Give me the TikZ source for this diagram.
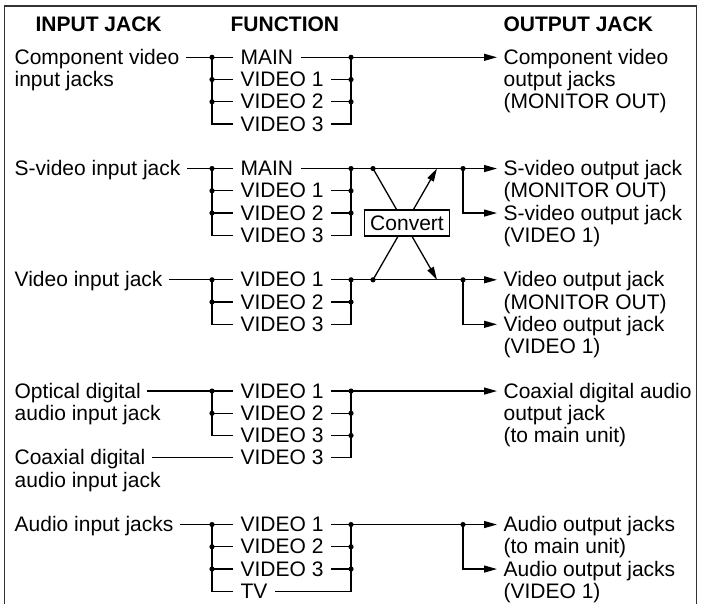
\documentclass[tikz,border=0pt]{standalone}
\usepackage{fontspec}
\setmainfont{Liberation Sans}
\usetikzlibrary{arrows.meta}
\newcommand\yb[1]{{64.3+22.25*(#1)}}
\newcommand\yl[1]{{57.3+22.25*(#1)}}
\begin{document}
\begin{tikzpicture}[x=1pt,y=-1pt, line width=1.3pt,
 every node/.style={font=\fontsize{21}{22}\selectfont},
 lbl/.style={anchor=base west, inner xsep=6pt, inner ysep=0pt, text height=14pt, text depth=0pt},
 fn/.style={anchor=base west, inner xsep=7pt, inner ysep=0pt, text height=14pt, text depth=0pt},
 head/.style={anchor=base west, inner sep=0pt, font=\fontsize{21}{22}\selectfont\bfseries},
 arr/.style={-{Triangle[length=13pt,width=7pt]}},
 frame/.style={line width=1.8pt, draw=black!80}]
\useasboundingbox (0,0) rectangle (701,604);
\draw[frame] (4.5,620) -- (4.5,6.3) -- (696.5,6.3) -- (696.5,620);

% headers
\node[head] (h1) at (35,32) {INPUT JACK};
\node[head] (h2) at (230,32) {FUNCTION};
\node[head] (h3) at (503,32) {OUTPUT JACK};

% ---------------- block 1: component video
\node[lbl] (i1) at (8,\yb{0}) {Component video};
\node[lbl] (i1b) at (8,\yb{1}) {input jacks};
\node[fn] (f1a) at (233,\yb{0}) {MAIN};
\node[fn] (f1b) at (233,\yb{1}) {VIDEO 1};
\node[fn] (f1c) at (233,\yb{2}) {VIDEO 2};
\node[fn] (f1d) at (233,\yb{3}) {VIDEO 3};
\node[lbl] (o1a) at (497,\yb{0}) {Component video};
\node[lbl] (o1b) at (497,\yb{1}) {output jacks};
\node[lbl] (o1c) at (497,\yb{2}) {(MONITOR OUT)};
\coordinate (L1) at (212,\yl{0});
\coordinate (R1) at (351,\yl{0});
\draw (i1.east) -- (f1a.west);
\draw (L1) |- (f1d.west);
\draw (f1b.west -| L1) -- (f1b.west);
\draw (f1c.west -| L1) -- (f1c.west);
\draw (f1a.east) -- (R1);
\draw (R1) |- (f1d.east);
\draw (f1b.east) -- (f1b.east -| R1);
\draw (f1c.east) -- (f1c.east -| R1);
\draw[arr] (R1) -- (o1a.west);
\foreach \p in {f1a,f1b,f1c} {\fill (\p.west -| L1) circle (2.6pt); \fill (\p.east -| R1) circle (2.6pt);}

% ---------------- block 2: S-video
\node[lbl] (i2) at (8,\yb{5}) {S-video input jack};
\node[fn] (f2a) at (233,\yb{5}) {MAIN};
\node[fn] (f2b) at (233,\yb{6}) {VIDEO 1};
\node[fn] (f2c) at (233,\yb{7}) {VIDEO 2};
\node[fn] (f2d) at (233,\yb{8}) {VIDEO 3};
\node[lbl] (o2a) at (497,\yb{5}) {S-video output jack};
\node[lbl] (o2b) at (497,\yb{6}) {(MONITOR OUT)};
\node[lbl] (o2c) at (497,\yb{7}) {S-video output jack};
\node[lbl] (o2d) at (497,\yb{8}) {(VIDEO 1)};
\coordinate (L2) at (212,\yl{5});
\coordinate (R2) at (351,\yl{5});
\coordinate (S2) at (373,\yl{5});
\coordinate (T2) at (437,\yl{5});
\coordinate (B2) at (463,\yl{5});
\draw (i2.east) -- (f2a.west);
\draw (L2) |- (f2d.west);
\draw (f2b.west -| L2) -- (f2b.west);
\draw (f2c.west -| L2) -- (f2c.west);
\draw (f2a.east) -- (R2);
\draw (R2) |- (f2d.east);
\draw (f2b.east) -- (f2b.east -| R2);
\draw (f2c.east) -- (f2c.east -| R2);
\draw[arr] (R2) -- (o2a.west);
\draw[arr] (B2) |- (o2c.west);
\foreach \p in {f2a,f2b,f2c} {\fill (\p.west -| L2) circle (2.6pt); \fill (\p.east -| R2) circle (2.6pt);}

% ---------------- block 3: video
\node[lbl] (i3) at (8,\yb{10}) {Video input jack};
\node[fn] (f3a) at (233,\yb{10}) {VIDEO 1};
\node[fn] (f3b) at (233,\yb{11}) {VIDEO 2};
\node[fn] (f3c) at (233,\yb{12}) {VIDEO 3};
\node[lbl] (o3a) at (497,\yb{10}) {Video output jack};
\node[lbl] (o3b) at (497,\yb{11}) {(MONITOR OUT)};
\node[lbl] (o3c) at (497,\yb{12}) {Video output jack};
\node[lbl] (o3d) at (497,\yb{13}) {(VIDEO 1)};
\coordinate (L3) at (212,\yl{10});
\coordinate (R3) at (351,\yl{10});
\coordinate (S3) at (373,\yl{10});
\coordinate (T3) at (437,\yl{10});
\coordinate (B3) at (463,\yl{10});
\draw (i3.east) -- (f3a.west);
\draw (L3) |- (f3c.west);
\draw (f3b.west -| L3) -- (f3b.west);
\draw (f3a.east) -- (R3);
\draw (R3) |- (f3c.east);
\draw (f3b.east) -- (f3b.east -| R3);
\draw[arr] (R3) -- (o3a.west);
\draw[arr] (B3) |- (o3c.west);
\foreach \p in {f3a,f3b} {\fill (\p.west -| L3) circle (2.6pt); \fill (\p.east -| R3) circle (2.6pt);}

% convert crossing
\draw[arr] (S2) -- (T3);
\draw[arr] (S3) -- (T2);
\node[draw, fill=white, line width=1.2pt, inner xsep=6pt, inner ysep=5.5pt, text height=15pt, text depth=0pt] (cv) at (407,223) {Convert};
\foreach \c in {S2,B2,S3,B3} {\fill (\c) circle (2.6pt);}

% ---------------- block 4: digital audio
\node[lbl] (i4) at (8,\yb{15}) {Optical digital};
\node[lbl] (i4b) at (8,\yb{16}) {audio input jack};
\node[lbl] (i4c) at (8,\yb{18}) {Coaxial digital};
\node[lbl] (i4d) at (8,\yb{19}) {audio input jack};
\node[fn] (f4a) at (233,\yb{15}) {VIDEO 1};
\node[fn] (f4b) at (233,\yb{16}) {VIDEO 2};
\node[fn] (f4c) at (233,\yb{17}) {VIDEO 3};
\node[fn] (f4d) at (233,\yb{18}) {VIDEO 3};
\node[lbl] (o4a) at (497,\yb{15}) {Coaxial digital audio};
\node[lbl] (o4b) at (497,\yb{16}) {output jack};
\node[lbl] (o4c) at (497,\yb{17}) {(to main unit)};
\coordinate (L4) at (212,\yl{15});
\coordinate (R4) at (351,\yl{15});
\draw (i4.east) -- (f4a.west);
\draw (i4c.east) -- (f4d.west);
\draw (L4) |- (f4c.west);
\draw (f4b.west -| L4) -- (f4b.west);
\draw (f4a.east) -- (R4);
\draw (R4) |- (f4d.east);
\draw (f4b.east) -- (f4b.east -| R4);
\draw (f4c.east) -- (f4c.east -| R4);
\draw[arr] (R4) -- (o4a.west);
\foreach \p in {f4a,f4b} {\fill (\p.west -| L4) circle (2.6pt);}
\foreach \p in {f4a,f4b,f4c} {\fill (\p.east -| R4) circle (2.6pt);}

% ---------------- block 5: analog audio
\node[lbl] (i5) at (8,\yb{21}) {Audio input jacks};
\node[fn] (f5a) at (233,\yb{21}) {VIDEO 1};
\node[fn] (f5b) at (233,\yb{22}) {VIDEO 2};
\node[fn] (f5c) at (233,\yb{23}) {VIDEO 3};
\node[fn] (f5d) at (233,\yb{24}) {TV};
\node[lbl] (o5a) at (497,\yb{21}) {Audio output jacks};
\node[lbl] (o5b) at (497,\yb{22}) {(to main unit)};
\node[lbl] (o5c) at (497,\yb{23}) {Audio output jacks};
\node[lbl] (o5d) at (497,\yb{24}) {(VIDEO 1)};
\coordinate (L5) at (212,\yl{21});
\coordinate (R5) at (351,\yl{21});
\coordinate (B5) at (463,\yl{21});
\draw (i5.east) -- (f5a.west);
\draw (L5) |- (f5d.west);
\draw (f5b.west -| L5) -- (f5b.west);
\draw (f5c.west -| L5) -- (f5c.west);
\draw (f5a.east) -- (R5);
\draw (R5) |- (f5d.east);
\draw (f5b.east) -- (f5b.east -| R5);
\draw (f5c.east) -- (f5c.east -| R5);
\draw[arr] (R5) -- (o5a.west);
\draw[arr] (B5) |- (o5c.west);
\fill (B5) circle (2.6pt);
\foreach \p in {f5a,f5b,f5c} {\fill (\p.west -| L5) circle (2.6pt); \fill (\p.east -| R5) circle (2.6pt);}
\end{tikzpicture}
\end{document}
